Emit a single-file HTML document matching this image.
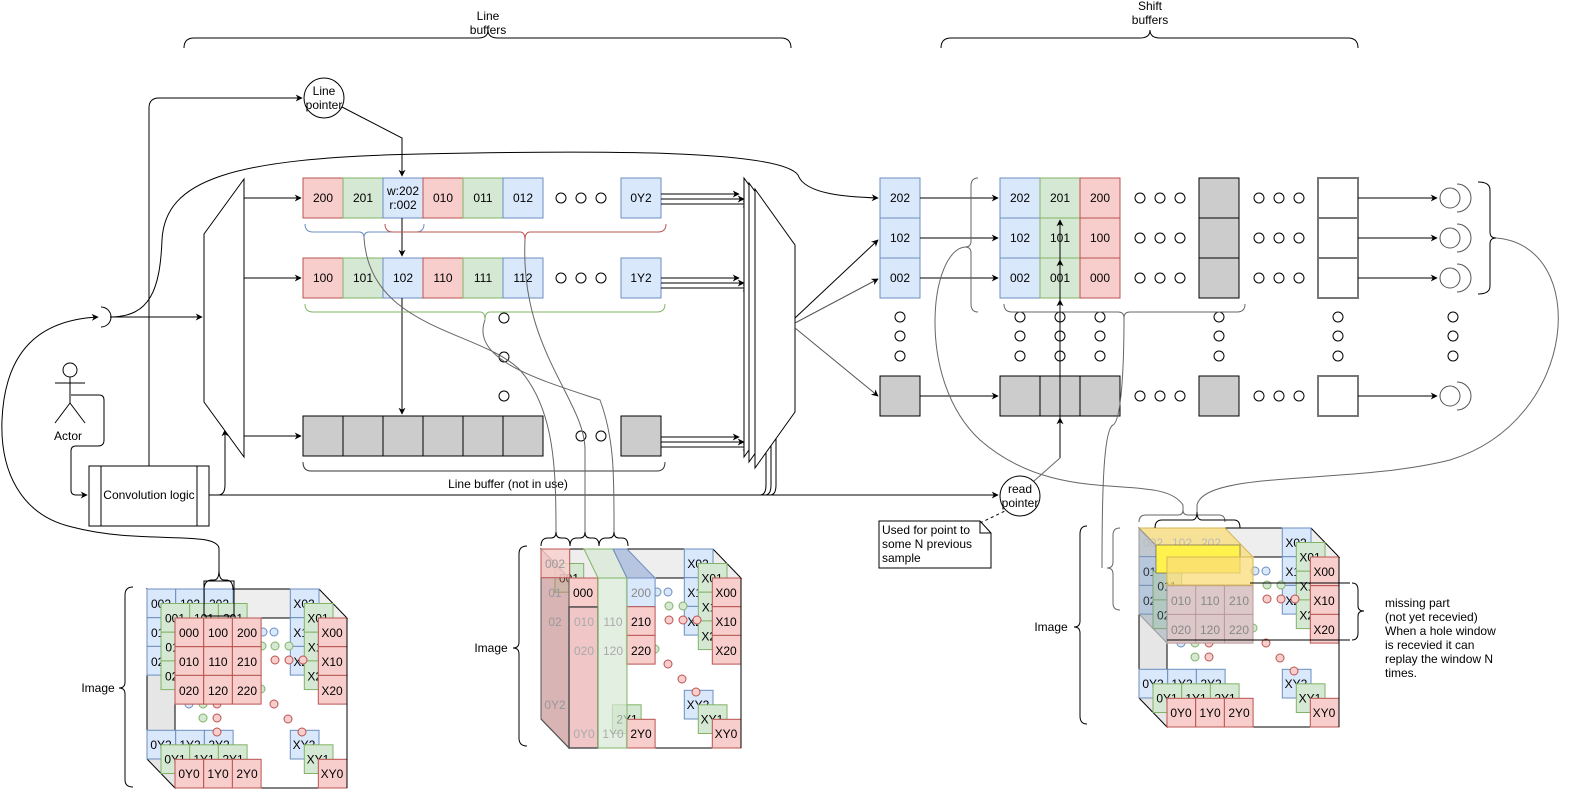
<!DOCTYPE html>
<html><head><meta charset="utf-8"><style>
html,body{margin:0;padding:0;background:#fff;overflow:hidden;width:1575px;height:791px}
svg{display:block;font-family:"Liberation Sans",sans-serif}
.r{fill:#f8cecc;stroke:#b85450}.g{fill:#d5e8d4;stroke:#82b366}.b{fill:#dae8fc;stroke:#6c8ebf}.k{fill:#ccc;stroke:#000}
text{font-size:12px;text-anchor:middle}
.ct text{font-size:12px}
.dot{fill:#fff;stroke:#000}
.ln{fill:none;stroke:#000}
.gl{fill:none;stroke:#666}
</style></head><body>
<svg width="1575" height="791" viewBox="0 0 1575 791" xmlns="http://www.w3.org/2000/svg">
<defs>
<marker id="a" viewBox="0 0 10 10" refX="9" refY="5" markerWidth="7" markerHeight="7" orient="auto"><path d="M0,0L10,5L0,10L3,5z" fill="#000"/></marker>
</defs>

<!-- top braces -->
<path class="ln" d="M184,48 Q184,38 194,38 L478,38 Q488,38 488,30 Q488,38 498,38 L781,38 Q791,38 791,48"/>
<text x="488" y="20">Line</text><text x="488" y="34">buffers</text>
<path class="ln" d="M941,48 Q941,38 951,38 L1140,38 Q1150,38 1150,30 Q1150,38 1160,38 L1348,38 Q1358,38 1358,48"/>
<text x="1150" y="10">Shift</text><text x="1150" y="24">buffers</text>

<!-- line pointer -->
<circle cx="324" cy="98" r="20" fill="#fff" stroke="#000"/>
<text x="324" y="95">Line</text><text x="324" y="109">pointer</text>
<path class="ln" d="M149,466 L149,108 Q149,98 159,98 L302,98" marker-end="url(#a)"/>
<path class="ln" d="M342,107 L402,138 L402,176" marker-end="url(#a)"/>

<path class="ln" d="M110,317 C150,317 160,290 162,240 C165,180 230,158 420,154 C600,150 780,150 798,175 C805,195 850,197 878,198" marker-end="url(#a)"/>
<path class="ln" d="M101,307 A10,10 0 0 1 101,327"/>
<path class="ln" d="M110,317 L202,317" marker-end="url(#a)"/>
<path class="ln" d="M72,527 C20,515 0,470 2,420 C5,350 40,320 98,317" marker-end="url(#a)"/>
<path class="ln" d="M72,527 C140,545 215,530 219,548 L219,570"/>

<!-- actor -->
<circle cx="70" cy="370" r="7" fill="#fff" stroke="#000"/>
<path class="ln" d="M70,377L70,403M55,383L85,383M70,403L55,423M70,403L85,423"/>
<text x="68" y="440">Actor</text>
<path class="ln" d="M71,395 L99,395 Q104,395 104,400 L104,440 Q104,446 98,446 L76,446 Q71,446 71,451 L71,490 Q71,495 76,495 L87,495" marker-end="url(#a)"/>

<!-- conv logic -->
<rect x="89" y="466" width="120" height="60" fill="#fff" stroke="#000"/>
<path class="ln" d="M101,466V526M197,466V526"/>
<text x="149" y="499">Convolution logic</text>
<path class="ln" d="M209,495 L218,495 Q225,495 225,485 L225,430" marker-end="url(#a)"/>
<path class="ln" d="M209,495 L998,495" marker-end="url(#a)"/>
<path class="ln" d="M760,495 Q766,495 766,485 L766,430" marker-end="url(#a)"/>
<path class="ln" d="M765,495 Q771,495 771,485 L771,425" marker-end="url(#a)"/>
<path class="ln" d="M770,495 Q776,495 776,485 L776,420" marker-end="url(#a)"/>
<text x="508" y="488">Line buffer (not in use)</text>

<!-- left mux -->
<polygon points="204,234 244,179 244,457 204,402" fill="#fff" stroke="#000"/>
<path class="ln" d="M244,198H301" marker-end="url(#a)"/>
<path class="ln" d="M244,278H301" marker-end="url(#a)"/>
<path class="ln" d="M244,436H301" marker-end="url(#a)"/>

<g class="ct">
<rect class="r" x="303" y="178" width="40" height="40"/><text x="323" y="202">200</text>
<rect class="g" x="343" y="178" width="40" height="40"/><text x="363" y="202">201</text>
<rect class="b" x="383" y="178" width="40" height="40"/><text x="403" y="195">w:202</text><text x="403" y="209">r:002</text>
<rect class="r" x="423" y="178" width="40" height="40"/><text x="443" y="202">010</text>
<rect class="g" x="463" y="178" width="40" height="40"/><text x="483" y="202">011</text>
<rect class="b" x="503" y="178" width="40" height="40"/><text x="523" y="202">012</text>
<rect class="b" x="621" y="178" width="40" height="40"/><text x="641" y="202">0Y2</text>
<rect class="r" x="303" y="258" width="40" height="40"/><text x="323" y="282">100</text>
<rect class="g" x="343" y="258" width="40" height="40"/><text x="363" y="282">101</text>
<rect class="b" x="383" y="258" width="40" height="40"/><text x="403" y="282">102</text>
<rect class="r" x="423" y="258" width="40" height="40"/><text x="443" y="282">110</text>
<rect class="g" x="463" y="258" width="40" height="40"/><text x="483" y="282">111</text>
<rect class="b" x="503" y="258" width="40" height="40"/><text x="523" y="282">112</text>
<rect class="b" x="621" y="258" width="40" height="40"/><text x="641" y="282">1Y2</text>
</g>
<g class="k"><rect x="303" y="416" width="40" height="40"/><rect x="343" y="416" width="40" height="40"/><rect x="383" y="416" width="40" height="40"/><rect x="423" y="416" width="40" height="40"/><rect x="463" y="416" width="40" height="40"/><rect x="503" y="416" width="40" height="40"/><rect x="621" y="416" width="40" height="40"/></g>
<g class="dot"><circle cx="561" cy="198" r="5"/><circle cx="581" cy="198" r="5"/><circle cx="601" cy="198" r="5"/><circle cx="561" cy="278" r="5"/><circle cx="581" cy="278" r="5"/><circle cx="601" cy="278" r="5"/><circle cx="581" cy="436" r="5"/><circle cx="601" cy="436" r="5"/><circle cx="504" cy="318" r="5"/><circle cx="504" cy="357" r="5"/><circle cx="504" cy="396" r="5"/></g>
<path class="ln" d="M402,218V256" marker-end="url(#a)"/>
<path class="ln" d="M402,298V414" marker-end="url(#a)"/>
<path fill="none" stroke="#6c8ebf" d="M305,224 Q305,232 313,232 L359,232 Q364,232 364,238 Q364,232 369,232 L416,232 Q424,232 424,224"/>
<path fill="none" stroke="#b85450" d="M385,224 Q385,232 393,232 L520,232 Q525,232 525,240 Q525,232 530,232 L658,232 Q666,232 666,224"/>
<path fill="none" stroke="#82b366" d="M305,304 Q305,312 313,312 L480,312 Q485,312 485,320 Q485,312 490,312 L657,312 Q665,312 665,304"/>
<path fill="none" stroke="#333" d="M303,462 Q303,471 311,471 L657,471 Q665,471 665,462"/>
<g class="ln">
<path d="M661,194H739" marker-end="url(#a)"/><path d="M661,199H744" marker-end="url(#a)"/><path d="M661,204H749" marker-end="url(#a)"/>
<path d="M661,278H739" marker-end="url(#a)"/><path d="M661,283H744" marker-end="url(#a)"/><path d="M661,288H749" marker-end="url(#a)"/>
<path d="M661,437H739" marker-end="url(#a)"/><path d="M661,442H744" marker-end="url(#a)"/><path d="M661,447H749" marker-end="url(#a)"/>
</g>
<polygon points="744,178 784,234 784,401 744,457" fill="#fff" stroke="#000"/>
<polygon points="749,183 789,239 789,406 749,462" fill="#fff" stroke="#000"/>
<polygon points="755,189 795,245 795,412 755,468" fill="#fff" stroke="#000"/>
<path class="ln" d="M795,318 L878,240" marker-end="url(#a)"/>
<path fill="none" stroke="#555" d="M795,323 L878,279" marker-end="url(#a)"/>
<path fill="none" stroke="#555" d="M795,328 L878,396" marker-end="url(#a)"/>

<g class="ct">
<rect class="b" x="880" y="178" width="40" height="40"/><text x="900" y="202">202</text>
<rect class="b" x="880" y="218" width="40" height="40"/><text x="900" y="242">102</text>
<rect class="b" x="880" y="258" width="40" height="40"/><text x="900" y="282">002</text>
<rect class="k" x="880" y="376" width="40" height="40"/>
<rect class="b" x="1000" y="178" width="40" height="40"/><text x="1020" y="202">202</text>
<rect class="g" x="1040" y="178" width="40" height="40"/><text x="1060" y="202">201</text>
<rect class="r" x="1080" y="178" width="40" height="40"/><text x="1100" y="202">200</text>
<rect class="b" x="1000" y="218" width="40" height="40"/><text x="1020" y="242">102</text>
<rect class="g" x="1040" y="218" width="40" height="40"/><text x="1060" y="242">101</text>
<rect class="r" x="1080" y="218" width="40" height="40"/><text x="1100" y="242">100</text>
<rect class="b" x="1000" y="258" width="40" height="40"/><text x="1020" y="282">002</text>
<rect class="g" x="1040" y="258" width="40" height="40"/><text x="1060" y="282">001</text>
<rect class="r" x="1080" y="258" width="40" height="40"/><text x="1100" y="282">000</text>
</g>
<g class="k"><rect x="1000" y="376" width="40" height="40"/><rect x="1040" y="376" width="40" height="40"/><rect x="1080" y="376" width="40" height="40"/>
<rect x="1199" y="178" width="40" height="40"/><rect x="1199" y="218" width="40" height="40"/><rect x="1199" y="258" width="40" height="40"/><rect x="1199" y="376" width="40" height="40"/></g>
<g fill="#fff" stroke="#777" stroke-width="2"><rect x="1318" y="178" width="40" height="40"/><rect x="1318" y="218" width="40" height="40"/><rect x="1318" y="258" width="40" height="40"/><rect x="1318" y="376" width="40" height="40"/></g>
<g class="ln">
<path d="M920,198H998" marker-end="url(#a)"/><path d="M920,238H998" marker-end="url(#a)"/><path d="M920,278H998" marker-end="url(#a)"/><path d="M920,396H998" marker-end="url(#a)"/>
<path d="M1358,198H1437" marker-end="url(#a)"/><path d="M1358,238H1437" marker-end="url(#a)"/><path d="M1358,278H1437" marker-end="url(#a)"/><path d="M1358,396H1437" marker-end="url(#a)"/>
</g>
<g class="dot">
<circle cx="1140" cy="198" r="5"/><circle cx="1160" cy="198" r="5"/><circle cx="1180" cy="198" r="5"/>
<circle cx="1140" cy="238" r="5"/><circle cx="1160" cy="238" r="5"/><circle cx="1180" cy="238" r="5"/>
<circle cx="1140" cy="278" r="5"/><circle cx="1160" cy="278" r="5"/><circle cx="1180" cy="278" r="5"/>
<circle cx="1140" cy="396" r="5"/><circle cx="1160" cy="396" r="5"/><circle cx="1180" cy="396" r="5"/>
<circle cx="1259" cy="198" r="5"/><circle cx="1279" cy="198" r="5"/><circle cx="1299" cy="198" r="5"/>
<circle cx="1259" cy="238" r="5"/><circle cx="1279" cy="238" r="5"/><circle cx="1299" cy="238" r="5"/>
<circle cx="1259" cy="278" r="5"/><circle cx="1279" cy="278" r="5"/><circle cx="1299" cy="278" r="5"/>
<circle cx="1259" cy="396" r="5"/><circle cx="1279" cy="396" r="5"/><circle cx="1299" cy="396" r="5"/>
<circle cx="900" cy="317" r="5"/><circle cx="900" cy="336" r="5"/><circle cx="900" cy="356" r="5"/>
<circle cx="1020" cy="317" r="5"/><circle cx="1020" cy="336" r="5"/><circle cx="1020" cy="356" r="5"/>
<circle cx="1060" cy="317" r="5"/><circle cx="1060" cy="336" r="5"/><circle cx="1060" cy="356" r="5"/>
<circle cx="1100" cy="317" r="5"/><circle cx="1100" cy="336" r="5"/><circle cx="1100" cy="356" r="5"/>
<circle cx="1219" cy="317" r="5"/><circle cx="1219" cy="336" r="5"/><circle cx="1219" cy="356" r="5"/>
<circle cx="1338" cy="317" r="5"/><circle cx="1338" cy="336" r="5"/><circle cx="1338" cy="356" r="5"/>
<circle cx="1453" cy="317" r="5"/><circle cx="1453" cy="336" r="5"/><circle cx="1453" cy="356" r="5"/>
</g>
<g fill="#fff" stroke="#555">
<circle cx="1450" cy="198" r="10"/><path fill="none" d="M1457,184 A14,14 0 0 1 1457,212"/>
<circle cx="1450" cy="238" r="10"/><path fill="none" d="M1457,224 A14,14 0 0 1 1457,252"/>
<circle cx="1450" cy="278" r="10"/><path fill="none" d="M1457,264 A14,14 0 0 1 1457,292"/>
<circle cx="1450" cy="396" r="10"/><path fill="none" d="M1457,382 A14,14 0 0 1 1457,410"/>
</g>
<path class="gl" d="M978,178 Q971,178 971,186 L971,241 Q971,247 965,247 Q971,247 971,253 L971,304 Q971,312 978,312"/>
<path class="gl" d="M1004,304 Q1004,312 1012,312 L1118,312 Q1124,312 1124,318 Q1124,312 1130,312 L1237,312 Q1245,312 1245,304"/>
<path class="ln" d="M1478,182 Q1490,182 1490,190 L1490,232 Q1490,238 1496,238 Q1490,238 1490,244 L1490,286 Q1490,294 1478,294"/>
<path class="ln" d="M1060,458 L1060,300" marker-end="url(#a)"/>
<path class="ln" d="M1060,300 L1060,260" marker-end="url(#a)"/>
<path class="ln" d="M1060,260 L1060,220" marker-end="url(#a)"/>
<path class="ln" d="M1060,458 L1060,418" marker-end="url(#a)"/>
<path class="gl" d="M1034,481 L1060,458"/>
<circle cx="1020" cy="496" r="20" fill="#fff" stroke="#000"/>
<text x="1020" y="493">read</text><text x="1020" y="507">pointer</text>
<path fill="none" stroke="#000" stroke-dasharray="3,3" d="M980,523 L1007,510"/>
<path d="M879,521 L980,521 L991,533 L991,568 L879,568 Z" fill="#fff" stroke="#000"/>
<path class="ln" d="M980,521 L980,533 L991,533"/>
<text x="882" y="534" style="text-anchor:start">Used for point to</text>
<text x="882" y="548" style="text-anchor:start">some N previous</text>
<text x="882" y="562" style="text-anchor:start">sample</text>

<path class="gl" d="M364,238 C370,330 480,330 520,370 C555,410 556,470 556,535"/>
<path class="gl" d="M525,240 C520,350 585,400 585,450 L585,535"/>
<path class="gl" d="M485,320 C470,360 540,380 600,400 C615,440 614,480 614,535"/>
<path class="gl" d="M965,247 C930,250 915,380 980,440 C1060,510 1160,470 1183,505 L1183,512"/>
<path class="gl" d="M1124,318 C1124,360 1122,420 1113,425 C1103,430 1102,500 1102,568"/>
<path class="gl" d="M1496,238 C1590,245 1580,420 1450,460 C1350,485 1205,470 1197,505 L1197,512"/>

<!-- LEFT cube -->
<g transform="translate(147,589)">
<polygon points="0,0 172,0 200,29 28,29" fill="#eee" stroke="#000"/>
<polygon points="0,0 28,29 28,199 0,170" fill="#e6e6e6" stroke="#000"/>
<rect x="28" y="29" width="172" height="170" fill="#fff" stroke="#000"/>
<g class="ct">
<g><rect class="b" x="0" y="0" width="28.7" height="28.7"/><text x="14" y="19">002</text><rect class="b" x="28.7" y="0" width="28.7" height="28.7"/><text x="43" y="19">102</text><rect class="b" x="57.4" y="0" width="28.7" height="28.7"/><text x="72" y="19">202</text>
<rect class="b" x="0" y="28.7" width="28.7" height="28.7"/><text x="14" y="48">012</text><rect class="b" x="0" y="57.4" width="28.7" height="28.7"/><text x="14" y="77">022</text>
<rect class="b" x="143.3" y="0" width="28.7" height="28.7"/><text x="157" y="19">X02</text><rect class="b" x="143.3" y="28.7" width="28.7" height="28.7"/><text x="157" y="48">X12</text><rect class="b" x="143.3" y="57.4" width="28.7" height="28.7"/><text x="157" y="77">X22</text>
<rect class="b" x="0" y="141.3" width="28.7" height="28.7"/><text x="14" y="160">0Y2</text><rect class="b" x="28.7" y="141.3" width="28.7" height="28.7"/><text x="43" y="160">1Y2</text><rect class="b" x="57.4" y="141.3" width="28.7" height="28.7"/><text x="72" y="160">2Y2</text><rect class="b" x="143.3" y="141.3" width="28.7" height="28.7"/><text x="157" y="160">XY2</text></g>
<g transform="translate(14,14.5)"><rect class="g" x="0" y="0" width="28.7" height="28.7"/><text x="14" y="19">001</text><rect class="g" x="28.7" y="0" width="28.7" height="28.7"/><text x="43" y="19">101</text><rect class="g" x="57.4" y="0" width="28.7" height="28.7"/><text x="72" y="19">201</text>
<rect class="g" x="0" y="28.7" width="28.7" height="28.7"/><text x="14" y="48">011</text><rect class="g" x="0" y="57.4" width="28.7" height="28.7"/><text x="14" y="77">021</text>
<rect class="g" x="143.3" y="0" width="28.7" height="28.7"/><text x="157" y="19">X01</text><rect class="g" x="143.3" y="28.7" width="28.7" height="28.7"/><text x="157" y="48">X11</text><rect class="g" x="143.3" y="57.4" width="28.7" height="28.7"/><text x="157" y="77">X21</text>
<rect class="g" x="0" y="141.3" width="28.7" height="28.7"/><text x="14" y="160">0Y1</text><rect class="g" x="28.7" y="141.3" width="28.7" height="28.7"/><text x="43" y="160">1Y1</text><rect class="g" x="57.4" y="141.3" width="28.7" height="28.7"/><text x="72" y="160">2Y1</text><rect class="g" x="143.3" y="141.3" width="28.7" height="28.7"/><text x="157" y="160">XY1</text></g>
<g class="dot"><circle cx="116" cy="43" r="4" stroke="#6c8ebf" fill="#dae8fc"/><circle cx="127" cy="43" r="4" stroke="#6c8ebf" fill="#dae8fc"/><circle cx="115" cy="57" r="4" stroke="#82b366" fill="#d5e8d4"/><circle cx="128" cy="57" r="4" stroke="#82b366" fill="#d5e8d4"/><circle cx="142" cy="57" r="4" stroke="#82b366" fill="#d5e8d4"/><circle cx="128" cy="71" r="4" stroke="#b85450" fill="#f8cecc"/><circle cx="142" cy="71" r="4" stroke="#b85450" fill="#f8cecc"/><circle cx="156" cy="71" r="4" stroke="#b85450" fill="#f8cecc"/>
<circle cx="42" cy="115" r="4" stroke="#6c8ebf" fill="#dae8fc"/><circle cx="56" cy="115" r="4" stroke="#82b366" fill="#d5e8d4"/><circle cx="70" cy="115" r="4" stroke="#b85450" fill="#f8cecc"/><circle cx="56" cy="129" r="4" stroke="#82b366" fill="#d5e8d4"/><circle cx="70" cy="129" r="4" stroke="#b85450" fill="#f8cecc"/><circle cx="114" cy="100" r="4" stroke="#82b366" fill="#d5e8d4"/><circle cx="127" cy="115" r="4" stroke="#b85450" fill="#f8cecc"/><circle cx="141" cy="130" r="4" stroke="#b85450" fill="#f8cecc"/><circle cx="70" cy="143" r="4" stroke="#b85450" fill="#f8cecc"/><circle cx="155" cy="143" r="4" stroke="#b85450" fill="#f8cecc"/></g>
<g transform="translate(28,29)"><rect class="r" x="0" y="0" width="28.7" height="28.7"/><text x="14" y="19">000</text><rect class="r" x="28.7" y="0" width="28.7" height="28.7"/><text x="43" y="19">100</text><rect class="r" x="57.4" y="0" width="28.7" height="28.7"/><text x="72" y="19">200</text>
<rect class="r" x="0" y="28.7" width="28.7" height="28.7"/><text x="14" y="48">010</text><rect class="r" x="28.7" y="28.7" width="28.7" height="28.7"/><text x="43" y="48">110</text><rect class="r" x="57.4" y="28.7" width="28.7" height="28.7"/><text x="72" y="48">210</text>
<rect class="r" x="0" y="57.4" width="28.7" height="28.7"/><text x="14" y="77">020</text><rect class="r" x="28.7" y="57.4" width="28.7" height="28.7"/><text x="43" y="77">120</text><rect class="r" x="57.4" y="57.4" width="28.7" height="28.7"/><text x="72" y="77">220</text>
<rect class="r" x="143.3" y="0" width="28.7" height="28.7"/><text x="157" y="19">X00</text><rect class="r" x="143.3" y="28.7" width="28.7" height="28.7"/><text x="157" y="48">X10</text><rect class="r" x="143.3" y="57.4" width="28.7" height="28.7"/><text x="157" y="77">X20</text>
<rect class="r" x="0" y="141.3" width="28.7" height="28.7"/><text x="14" y="160">0Y0</text><rect class="r" x="28.7" y="141.3" width="28.7" height="28.7"/><text x="43" y="160">1Y0</text><rect class="r" x="57.4" y="141.3" width="28.7" height="28.7"/><text x="72" y="160">2Y0</text><rect class="r" x="143.3" y="141.3" width="28.7" height="28.7"/><text x="157" y="160">XY0</text></g>
</g>
<path class="ln" d="M200,29 L200,199"/>
<rect x="57" y="-8" width="30" height="35" fill="none" stroke="#000"/>
</g>
<path class="ln" d="M204,590 Q204,580 212,580 L214,580 Q219,580 219,570 Q219,580 224,580 L226,580 Q233,580 233,590"/>
<path class="ln" d="M133,587 Q125,587 125,595 L125,682 Q125,688 119,688 Q125,688 125,694 L125,780 Q125,787 133,787"/>
<text x="98" y="692">Image</text>

<!-- MIDDLE cube -->
<g transform="translate(541,549)">
<polygon points="0,0 172,0 200,29 28,29" fill="#eee" stroke="#000"/>
<polygon points="0,0 28,29 28,199 0,170" fill="#e6e6e6" stroke="#000"/>
<rect x="28" y="29" width="172" height="170" fill="#fff" stroke="#000"/>
<g class="ct">
<rect class="b" x="143.3" y="0" width="28.7" height="28.7"/><text x="157" y="19">X02</text><rect class="b" x="143.3" y="28.7" width="28.7" height="28.7"/><text x="157" y="48">X12</text><rect class="b" x="143.3" y="57.4" width="28.7" height="28.7"/><text x="157" y="77">X22</text><rect class="b" x="143.3" y="141.3" width="28.7" height="28.7"/><text x="157" y="160">XY2</text>
<g transform="translate(14,14.5)"><rect class="g" x="143.3" y="0" width="28.7" height="28.7"/><text x="157" y="19">X01</text><rect class="g" x="143.3" y="28.7" width="28.7" height="28.7"/><text x="157" y="48">X11</text><rect class="g" x="143.3" y="57.4" width="28.7" height="28.7"/><text x="157" y="77">X21</text><rect class="g" x="143.3" y="141.3" width="28.7" height="28.7"/><text x="157" y="160">XY1</text><rect class="g" x="57.4" y="141.3" width="28.7" height="28.7"/><text x="72" y="160">2Y1</text>
<rect class="g" x="0" y="0" width="28.7" height="28.7"/><text x="14" y="19">001</text></g>
<g class="dot"><circle cx="116" cy="43" r="4" stroke="#6c8ebf" fill="#dae8fc"/><circle cx="127" cy="43" r="4" stroke="#6c8ebf" fill="#dae8fc"/><circle cx="128" cy="57" r="4" stroke="#82b366" fill="#d5e8d4"/><circle cx="142" cy="57" r="4" stroke="#82b366" fill="#d5e8d4"/><circle cx="128" cy="71" r="4" stroke="#b85450" fill="#f8cecc"/><circle cx="142" cy="71" r="4" stroke="#b85450" fill="#f8cecc"/><circle cx="156" cy="71" r="4" stroke="#b85450" fill="#f8cecc"/><circle cx="114" cy="100" r="4" stroke="#82b366" fill="#d5e8d4"/><circle cx="127" cy="115" r="4" stroke="#b85450" fill="#f8cecc"/><circle cx="141" cy="130" r="4" stroke="#b85450" fill="#f8cecc"/><circle cx="155" cy="143" r="4" stroke="#b85450" fill="#f8cecc"/></g>
<g transform="translate(28,29)">
<rect class="b" x="57.4" y="0" width="28.7" height="28.7"/><text x="72" y="19" fill="#888">200</text>
<rect class="r" x="57.4" y="28.7" width="28.7" height="28.7"/><text x="72" y="48">210</text>
<rect class="r" x="57.4" y="57.4" width="28.7" height="28.7"/><text x="72" y="77">220</text>
<rect class="r" x="143.3" y="0" width="28.7" height="28.7"/><text x="157" y="19">X00</text><rect class="r" x="143.3" y="28.7" width="28.7" height="28.7"/><text x="157" y="48">X10</text><rect class="r" x="143.3" y="57.4" width="28.7" height="28.7"/><text x="157" y="77">X20</text>
<rect class="r" x="57.4" y="141.3" width="28.7" height="28.7"/><text x="72" y="160">2Y0</text><rect class="r" x="143.3" y="141.3" width="28.7" height="28.7"/><text x="157" y="160">XY0</text>
<rect class="r" x="0" y="0" width="28.7" height="28.7"/><text x="14" y="19">000</text></g>
<polygon points="0,0 28,29 28,199 0,170" fill="rgba(200,120,120,0.45)" stroke="#555"/>
<rect x="0" y="0" width="28.7" height="28.7" fill="rgba(248,206,204,0.8)" stroke="#b85450"/><text x="14" y="19" fill="#999">002</text>
<text x="14" y="48" fill="#999">01</text><text x="14" y="77" fill="#999">02</text><text x="14" y="160" fill="#999">0Y2</text>
<rect x="28" y="58" width="29" height="141" fill="rgba(230,160,160,0.6)" stroke="#555" stroke-width="1.5"/>
<text x="43" y="77" fill="#aaa">010</text><text x="43" y="106" fill="#aaa">020</text><text x="43" y="189" fill="#aaa">0Y0</text>
<polygon points="43,0 72,0 86,29 57,29" fill="rgba(213,232,212,0.7)" stroke="#82b366"/>
<polygon points="72,0 86,0 114,29 86,29" fill="rgba(160,180,220,0.7)" stroke="#6c8ebf"/>
<rect x="57" y="29" width="29" height="170" fill="rgba(213,232,212,0.7)" stroke="#82b366"/>
<text x="72" y="77" fill="#aaa">110</text><text x="72" y="106" fill="#aaa">120</text><text x="72" y="189" fill="#aaa">1Y0</text>
</g>
<path class="ln" d="M200,29 L200,199"/>
</g>
<path class="ln" d="M541,546 Q541,538 548,538 L551,538 Q556,538 556,532 Q556,538 561,538 L564,538 Q570,538 570,546"/>
<path class="ln" d="M570,546 Q570,538 577,538 L580,538 Q585,538 585,532 Q585,538 590,538 L593,538 Q599,538 599,546"/>
<path class="ln" d="M599,546 Q599,538 606,538 L609,538 Q614,538 614,532 Q614,538 619,538 L622,538 Q628,538 628,546"/>
<path class="ln" d="M527,546 Q519,546 519,554 L519,642 Q519,648 513,648 Q519,648 519,654 L519,738 Q519,746 527,746"/>
<text x="491" y="652">Image</text>

<!-- RIGHT cube -->
<g transform="translate(1139,528)">
<polygon points="0,0 172,0 200,29 28,29" fill="#eee" stroke="#000"/>
<polygon points="0,0 28,29 28,199 0,170" fill="#e6e6e6" stroke="#000"/>
<rect x="28" y="29" width="172" height="170" fill="#fff" stroke="#000"/>
<g class="ct">
<rect class="b" x="0" y="28.7" width="28.7" height="28.7"/><text x="14" y="48">012</text><rect class="b" x="0" y="57.4" width="28.7" height="28.7"/><text x="14" y="77">022</text>
<rect class="b" x="143.3" y="0" width="28.7" height="28.7"/><text x="157" y="19">X02</text><rect class="b" x="143.3" y="28.7" width="28.7" height="28.7"/><text x="157" y="48">X12</text><rect class="b" x="143.3" y="57.4" width="28.7" height="28.7"/><text x="157" y="77">X22</text>
<rect class="b" x="0" y="141.3" width="28.7" height="28.7"/><text x="14" y="160">0Y2</text><rect class="b" x="28.7" y="141.3" width="28.7" height="28.7"/><text x="43" y="160">1Y2</text><rect class="b" x="57.4" y="141.3" width="28.7" height="28.7"/><text x="72" y="160">2Y2</text><rect class="b" x="143.3" y="141.3" width="28.7" height="28.7"/><text x="157" y="160">XY2</text>
<g transform="translate(14,14.5)"><rect class="g" x="0" y="28.7" width="28.7" height="28.7"/><text x="14" y="48">011</text><rect class="g" x="0" y="57.4" width="28.7" height="28.7"/><text x="14" y="77">021</text>
<rect class="g" x="143.3" y="0" width="28.7" height="28.7"/><text x="157" y="19">X01</text><rect class="g" x="143.3" y="28.7" width="28.7" height="28.7"/><text x="157" y="48">X11</text><rect class="g" x="143.3" y="57.4" width="28.7" height="28.7"/><text x="157" y="77">X21</text>
<rect class="g" x="0" y="141.3" width="28.7" height="28.7"/><text x="14" y="160">0Y1</text><rect class="g" x="28.7" y="141.3" width="28.7" height="28.7"/><text x="43" y="160">1Y1</text><rect class="g" x="57.4" y="141.3" width="28.7" height="28.7"/><text x="72" y="160">2Y1</text><rect class="g" x="143.3" y="141.3" width="28.7" height="28.7"/><text x="157" y="160">XY1</text></g>
<g class="dot"><circle cx="116" cy="43" r="4" stroke="#6c8ebf" fill="#dae8fc"/><circle cx="127" cy="43" r="4" stroke="#6c8ebf" fill="#dae8fc"/><circle cx="128" cy="57" r="4" stroke="#82b366" fill="#d5e8d4"/><circle cx="142" cy="57" r="4" stroke="#82b366" fill="#d5e8d4"/><circle cx="128" cy="71" r="4" stroke="#b85450" fill="#f8cecc"/><circle cx="142" cy="71" r="4" stroke="#b85450" fill="#f8cecc"/><circle cx="156" cy="71" r="4" stroke="#b85450" fill="#f8cecc"/>
<circle cx="42" cy="115" r="4" stroke="#6c8ebf" fill="#dae8fc"/><circle cx="56" cy="115" r="4" stroke="#82b366" fill="#d5e8d4"/><circle cx="70" cy="115" r="4" stroke="#b85450" fill="#f8cecc"/><circle cx="56" cy="129" r="4" stroke="#82b366" fill="#d5e8d4"/><circle cx="70" cy="129" r="4" stroke="#b85450" fill="#f8cecc"/><circle cx="114" cy="100" r="4" stroke="#82b366" fill="#d5e8d4"/><circle cx="127" cy="115" r="4" stroke="#b85450" fill="#f8cecc"/><circle cx="141" cy="130" r="4" stroke="#b85450" fill="#f8cecc"/><circle cx="155" cy="143" r="4" stroke="#b85450" fill="#f8cecc"/></g>
<g transform="translate(28,29)">
<rect x="0" y="28.7" width="86" height="57.4" fill="#dcc8c8" stroke="#b89898"/>
<path d="M28.7,28.7V86M57.4,28.7V86M0,57.4H86" stroke="#b89898" fill="none"/>
<text x="14" y="48" fill="#888">010</text><text x="43" y="48" fill="#888">110</text><text x="72" y="48" fill="#888">210</text>
<text x="14" y="77" fill="#888">020</text><text x="43" y="77" fill="#888">120</text><text x="72" y="77" fill="#888">220</text>
<rect class="r" x="143.3" y="0" width="28.7" height="28.7"/><text x="157" y="19">X00</text><rect class="r" x="143.3" y="28.7" width="28.7" height="28.7"/><text x="157" y="48">X10</text><rect class="r" x="143.3" y="57.4" width="28.7" height="28.7"/><text x="157" y="77">X20</text>
<rect class="r" x="0" y="141.3" width="28.7" height="28.7"/><text x="14" y="160">0Y0</text><rect class="r" x="28.7" y="141.3" width="28.7" height="28.7"/><text x="43" y="160">1Y0</text><rect class="r" x="57.4" y="141.3" width="28.7" height="28.7"/><text x="72" y="160">2Y0</text><rect class="r" x="143.3" y="141.3" width="28.7" height="28.7"/><text x="157" y="160">XY0</text></g>
<polygon points="0,0 86,0 114,29 28,29" fill="rgba(250,220,120,0.75)" stroke="#d6b656"/>
<polygon points="0,0 28,29 28,115 0,86" fill="rgba(120,140,160,0.35)" stroke="#999"/>
<text x="14" y="19" fill="#bbb">002</text><text x="43" y="19" fill="#bbb">102</text><text x="72" y="19" fill="#bbb">202</text>
<rect x="17" y="17" width="84" height="28" fill="#fff24d" stroke="#333" stroke-opacity="0.5"/>
<rect x="28" y="29" width="86" height="28" fill="rgba(250,220,120,0.75)" stroke="#d6b656"/>
</g>
<path class="ln" d="M200,29 L200,199"/>
</g>
<path fill="none" stroke="#000" d="M1250,583 H1350 M1167,640 H1350"/>
<path class="ln" d="M1352,583 Q1358,583 1358,590 L1358,606 Q1358,611 1364,611 Q1358,611 1358,616 L1358,633 Q1358,640 1352,640"/>
<g>
<text x="1385" y="607" style="text-anchor:start">missing part</text>
<text x="1385" y="621" style="text-anchor:start">(not yet recevied)</text>
<text x="1385" y="635" style="text-anchor:start">When a hole window</text>
<text x="1385" y="649" style="text-anchor:start">is recevied it can</text>
<text x="1385" y="663" style="text-anchor:start">replay the window N</text>
<text x="1385" y="677" style="text-anchor:start">times.</text>
</g>
<path class="gl" d="M1139,522 Q1139,515 1146,515 L1178,515 Q1183,515 1183,510 Q1183,515 1188,515 L1219,515 Q1225,515 1225,522"/>
<path class="ln" d="M1155,528 Q1155,520 1162,520 L1192,520 Q1197,520 1197,512 Q1197,520 1202,520 L1234,520 Q1240,520 1240,528"/>
<path class="gl" d="M1120,528 Q1113,528 1113,535 L1113,562 Q1113,568 1107,568 Q1113,568 1113,574 L1113,603 Q1113,610 1120,610"/>
<path class="ln" d="M1087,526 Q1080,526 1080,534 L1080,621 Q1080,627 1074,627 Q1080,627 1080,633 L1080,716 Q1080,724 1087,724"/>
<text x="1051" y="631">Image</text>
</svg>
</body></html>
